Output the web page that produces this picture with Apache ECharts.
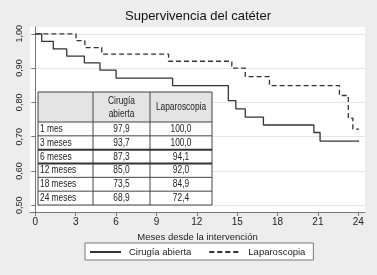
<!DOCTYPE html>
<html>
<head>
<meta charset="utf-8">
<script src="https://cdn.jsdelivr.net/npm/echarts@6/dist/echarts.min.js"></script>
<style>
  html, body { margin: 0; padding: 0; background: #ededed; }
  #chart { width: 377px; height: 275px; }
</style>
</head>
<body>
<div id="chart"></div>
<script>
// Kaplan-Meier steps (month, survival)
const monthsAbierta = [0, 0.47, 1.33, 2.33, 3.64, 4.8, 6.0, 10.2, 14.34, 14.9, 15.6, 16.95, 20.7, 21.16, 24.06];
const survAbierta   = [1.0, 0.978, 0.956, 0.935, 0.915, 0.894, 0.871, 0.849, 0.805, 0.781, 0.757, 0.734, 0.712, 0.687, 0.687];
const monthsLapa    = [0, 3.02, 3.68, 4.93, 9.9, 14.6, 15.6, 17.4, 22.6, 23.26, 23.6, 24.06];
const survLapa      = [1.0, 0.98, 0.96, 0.941, 0.92, 0.90, 0.875, 0.849, 0.82, 0.754, 0.722, 0.722];

const xTicks = [0, 3, 6, 9, 12, 15, 18, 21, 24];
const yTicks = [0.5, 0.6, 0.7, 0.8, 0.9, 1.0];

// inset table
const tableHeader = ['', 'Cirugía\nabierta', 'Laparoscopia'];
const tableRows   = ['1 mes', '3 meses', '6 meses', '12 meses', '18 meses', '24 meses'];
const tableAbierta = ['97,9', '93,7', '87,3', '85,0', '73,5', '68,9'];
const tableLapa    = ['100,0', '100,0', '94,1', '92,0', '84,9', '72,4'];
const boldRow = 2; // 6 meses row is framed with heavy rules

const zip = (xs, ys) => xs.map((x, i) => [x, ys[i]]);

const chart = echarts.init(document.getElementById('chart'));

// table layout
const tX = [38, 93, 150, 212];
const tTop = 92, headH = 30, tBottom = 205;
const rowH = (tBottom - tTop - headH) / tableRows.length;
const tFont = "11px 'Liberation Sans', Arial, sans-serif";
const narrow = 0.76; // squeeze text to look like a narrow face

const tableGraphic = [];
const txt = (x, y, text, align, extra) => ({
  type: 'text', x, y, z: 101, scaleX: narrow,
  style: Object.assign({ text, font: tFont, fill: '#222', align, verticalAlign: 'middle' }, extra || {})
});
tableGraphic.push({ type: 'rect', z: 100, shape: { x: tX[0], y: tTop, width: tX[3] - tX[0], height: headH }, style: { fill: '#e4e4e4' } });
tableGraphic.push({ type: 'rect', z: 100, shape: { x: tX[0], y: tTop + headH, width: tX[3] - tX[0], height: tBottom - tTop - headH }, style: { fill: '#fff' } });
// vertical rules
tX.forEach(x => {
  tableGraphic.push({ type: 'line', z: 101, shape: { x1: x, y1: tTop, x2: x, y2: tBottom }, style: { stroke: '#444', lineWidth: 1 } });
});
// horizontal rules
for (let i = 0; i <= tableRows.length + 1; i++) {
  const y = i === 0 ? tTop : tTop + headH + (i - 1) * rowH;
  const heavy = (i - 1 === boldRow || i - 1 === boldRow + 1);
  tableGraphic.push({ type: 'line', z: 102, shape: { x1: tX[0], y1: y, x2: tX[3], y2: y }, style: { stroke: heavy ? '#333' : '#444', lineWidth: heavy ? 2 : 1 } });
}
// header text
tableGraphic.push(txt((tX[1] + tX[2]) / 2, tTop + headH / 2, tableHeader[1], 'center', { lineHeight: 13 }));
tableGraphic.push(txt((tX[2] + tX[3]) / 2, tTop + headH / 2, tableHeader[2], 'center'));
// body text
tableRows.forEach((r, i) => {
  const cy = tTop + headH + (i + 0.5) * rowH;
  tableGraphic.push(txt(tX[0] + 2, cy, r, 'left'));
  tableGraphic.push(txt((tX[1] + tX[2]) / 2, cy, tableAbierta[i], 'center'));
  tableGraphic.push(txt((tX[2] + tX[3]) / 2, cy, tableLapa[i], 'center'));
});

const axisFont = "'Liberation Sans', Arial, sans-serif";

const option = {
  animation: false,
  backgroundColor: '#ededed',
  title: {
    text: 'Supervivencia del catéter',
    left: 125,
    top: 10,
    padding: 0,
    textStyle: { fontSize: 13, fontWeight: 'normal', color: '#111', fontFamily: axisFont }
  },
  grid: {
    left: 30, right: 12, top: 27, bottom: 63,
    show: true, backgroundColor: '#fff', borderWidth: 0
  },
  legend: {
    left: 85,
    top: 243,
    padding: [4, 8, 3, 4],
    itemWidth: 31,
    itemHeight: 10,
    itemGap: 17,
    backgroundColor: '#fff',
    borderColor: '#777',
    borderWidth: 1,
    borderRadius: 0,
    itemStyle: { color: 'rgba(0,0,0,0)', borderColor: 'rgba(0,0,0,0)', borderWidth: 0 },
    textStyle: { fontSize: 9.5, color: '#222', fontFamily: axisFont, padding: [0, 0, 0, 3] },
    data: ['Cirugía abierta', 'Laparoscopia']
  },
  xAxis: {
    type: 'value',
    min: -0.4,
    max: 24.5,
    name: 'Meses desde la intervención',
    nameLocation: 'middle',
    nameGap: 19,
    nameTextStyle: { fontSize: 9.5, color: '#222', fontFamily: axisFont },
    axisLine: { onZero: false, lineStyle: { color: '#777', width: 1 } },
    axisTick: { customValues: xTicks, length: 4, lineStyle: { color: '#777' } },
    axisLabel: { customValues: xTicks, fontSize: 10, color: '#222', margin: 5, fontFamily: axisFont },
    splitLine: { show: false }
  },
  yAxis: {
    type: 'value',
    min: 0.48,
    max: 1.02,
    axisLine: { show: true, lineStyle: { color: '#777', width: 1 } },
    axisTick: { show: true, customValues: yTicks, length: 4, lineStyle: { color: '#777' } },
    axisLabel: {
      customValues: yTicks, rotate: 90, fontSize: 9, color: '#222', margin: 6, fontFamily: axisFont,
      formatter: v => v.toFixed(2).replace('.', ',')
    },
    splitLine: { show: true, lineStyle: { color: '#e6e6e6', width: 1 } }
  },
  series: [
    {
      name: 'Cirugía abierta',
      type: 'line',
      step: 'end',
      symbol: 'none',
      data: zip(monthsAbierta, survAbierta),
      lineStyle: { color: '#333', width: 1.3 },
      itemStyle: { color: '#333' }
    },
    {
      name: 'Laparoscopia',
      type: 'line',
      step: 'end',
      symbol: 'none',
      data: zip(monthsLapa, survLapa),
      lineStyle: { color: '#333', width: 1.3, type: [5, 3] },
      itemStyle: { color: '#333' }
    }
  ],
  graphic: [{ type: 'group', children: tableGraphic }]
};

chart.setOption(option);
</script>
</body>
</html>
